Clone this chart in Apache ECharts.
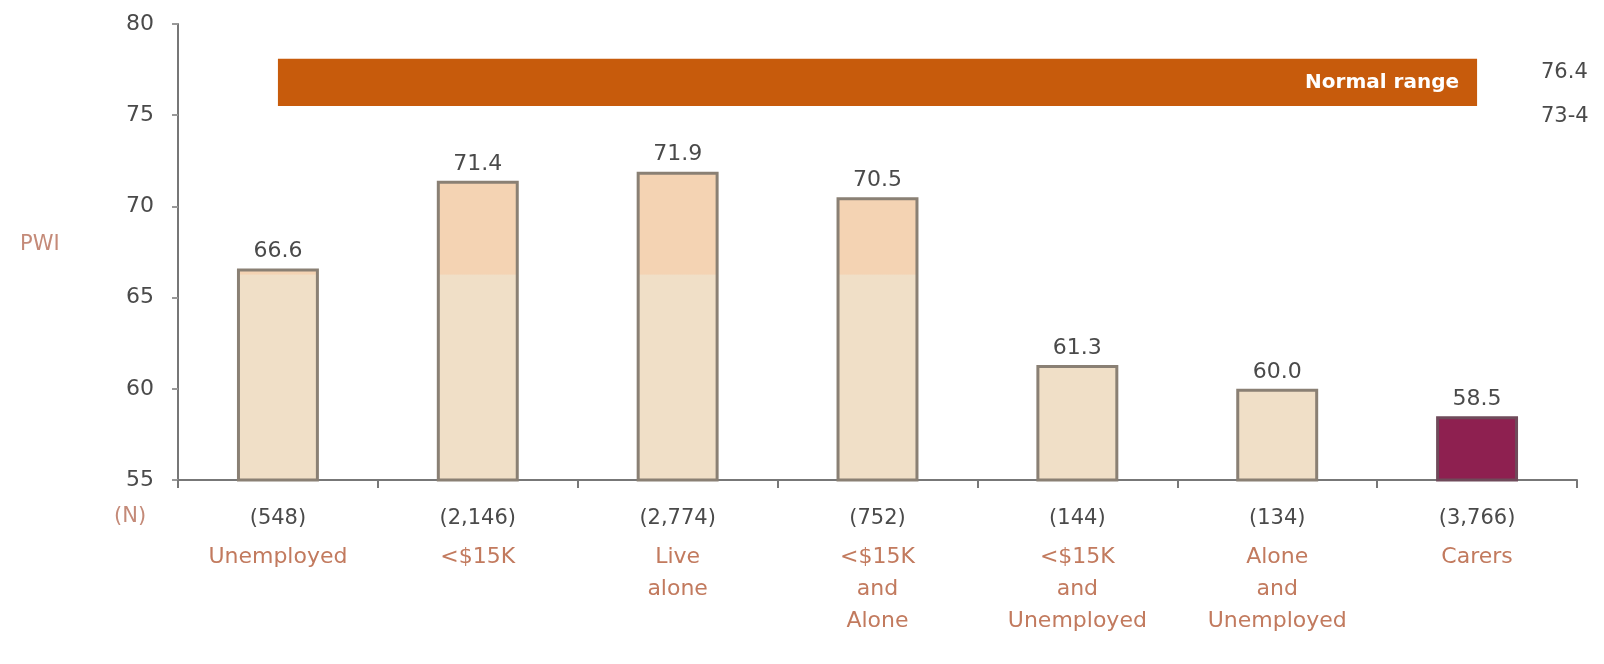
<!DOCTYPE html>
<html>
<head>
<meta charset="utf-8">
<script src="https://cdn.jsdelivr.net/npm/echarts@6/dist/echarts.min.js"></script>
<style>
  html, body { margin: 0; padding: 0; background: #fff; }
  #chart { width: 1604px; height: 664px; }
</style>
</head>
<body>
<div id="chart"></div>
<script>
// groups shown on the x axis
const categories = ['Unemployed', '<$15K', 'Live\nalone', '<$15K\nand\nAlone', '<$15K\nand\nUnemployed', 'Alone\nand\nUnemployed', 'Carers']
const sampleSizes = ['548', '2,146', '2,774', '752', '144', '134', '3,766']
const pwiValues = [66.6, 71.4, 71.9, 70.5, 61.3, 60.0, 58.5]
const highlightIndex = 6
// normal range band as drawn (first to last group, low to high), and the limits printed beside it
const bandRange = [0, 6, 75.5, 78.1]
const rangeLabels = ['76.4', '73-4']
const yTicks = [55, 60, 65, 70, 75, 80]

const font = "'DejaVu Sans', Verdana, sans-serif"
const chart = echarts.init(document.getElementById('chart'), null, { renderer: 'canvas' })

const baseFill = new echarts.graphic.LinearGradient(0, 0, 0, 664, [
  { offset: 0, color: '#f4d3b3' },
  { offset: 0.413, color: '#f4d3b3' },
  { offset: 0.414, color: '#f0dfc7' },
  { offset: 1, color: '#f0dfc7' }
], true)

const option = {
  backgroundColor: '#fff',
  animation: false,
  grid: { left: 178, right: 27, top: 24, bottom: 184 },
  xAxis: {
    type: 'category',
    data: categories,
    boundaryGap: true,
    axisLine: { lineStyle: { color: '#777', width: 2 } },
    axisTick: { show: true, length: 8, lineStyle: { color: '#777', width: 2 } },
    axisLabel: {
      interval: 0,
      margin: 17,
      formatter: (val, idx) => {
        const lines = val.split('\n').map(l => '{c|' + l + '}').join('\n')
        return '{n|(' + sampleSizes[idx] + ')}\n' + lines
      },
      rich: {
        n: { fontFamily: font, fontSize: 21, color: '#4a4a4a', lineHeight: 44 },
        c: { fontFamily: font, fontSize: 22, color: '#c27a5e', lineHeight: 32 }
      }
    }
  },
  yAxis: {
    type: 'value',
    min: yTicks[0],
    max: yTicks[yTicks.length - 1],
    interval: 5,
    splitLine: { show: false },
    axisLine: { show: true, lineStyle: { color: '#777', width: 2 } },
    axisTick: { show: true, length: 6, lineStyle: { color: '#999', width: 2 } },
    axisLabel: { margin: 24, fontFamily: font, fontSize: 22, color: '#4a4a4a' }
  },
  graphic: [
    { type: 'text', left: 20, top: 234, style: { text: 'PWI', font: '21px ' + font, fill: '#c48a78' } },
    { type: 'text', left: 114, top: 506, style: { text: '(N)', font: '21px ' + font, fill: '#c48a78' } },
    { type: 'text', left: 1541, top: 62, style: { text: rangeLabels[0], font: '21px ' + font, fill: '#4a4a4a' } },
    { type: 'text', left: 1541, top: 106, style: { text: rangeLabels[1], font: '21px ' + font, fill: '#4a4a4a' } }
  ],
  series: [
    {
      type: 'custom',
      silent: true,
      data: [bandRange],
      encode: { x: [0, 1], y: [2, 3] },
      renderItem: (params, api) => {
        const p0 = api.coord([api.value(0), api.value(3)])
        const p1 = api.coord([api.value(1), api.value(2)])
        return {
          type: 'rect',
          shape: { x: p0[0], y: p0[1], width: p1[0] - p0[0], height: p1[1] - p0[1] },
          style: { fill: '#c75b0c' },
          textContent: {
            style: { text: 'Normal range', fill: '#fff', font: 'bold 20px ' + font }
          },
          textConfig: { position: 'insideRight', distance: 18 }
        }
      }
    },
    {
      type: 'bar',
      barWidth: '41%',
      data: pwiValues.map((v, i) => ({
        value: v,
        itemStyle: i === highlightIndex
          ? { color: '#8e2050', borderColor: '#6f4a5a', borderWidth: 3 }
          : { color: baseFill, borderColor: '#8a8074', borderWidth: 3 }
      })),
      label: {
        show: true,
        position: 'top',
        distance: 6,
        fontFamily: font,
        fontSize: 22,
        color: '#4a4a4a',
        formatter: p => p.value.toFixed(1)
      }
    }
  ]
}

chart.setOption(option)
</script>
</body>
</html>
